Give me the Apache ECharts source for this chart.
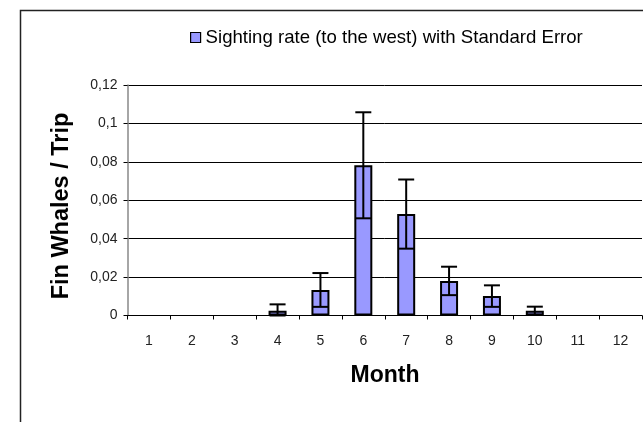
<!DOCTYPE html>
<html>
<head>
<meta charset="utf-8">
<script src="https://cdn.jsdelivr.net/npm/echarts@6/dist/echarts.min.js"></script>
<style>
html,body{margin:0;padding:0;background:#fff;}
#c{width:643px;height:422px;}
</style>
</head>
<body>
<div id="c"></div>
<script>
const months = ['1','2','3','4','5','6','7','8','9','10','11','12'];
const sightingRate = [0, 0, 0, 0.0025, 0.0133, 0.0782, 0.0528, 0.0180, 0.0101, 0.0025, 0, 0];
const standardError = [0, 0, 0, 0.0033, 0.0088, 0.0276, 0.0180, 0.0074, 0.0056, 0.0021, 0, 0];
const yTickLabels = ['0', '0,02', '0,04', '0,06', '0,08', '0,1', '0,12'];

const FONT = '"Liberation Sans", Arial, sans-serif';
const barData = sightingRate.map(v => (v > 0 ? v : null));
const errData = sightingRate.map((v, i) => [i, Math.max(0, v - standardError[i]), v + standardError[i], v]);

const chart = echarts.init(document.getElementById('c'), null, {renderer: 'canvas'});
chart.setOption({
  animation: false,
  backgroundColor: '#fff',
  textStyle: {fontFamily: FONT},
  legend: {
    left: 185, top: 23,
    icon: 'rect', itemWidth: 10, itemHeight: 10,
    textStyle: {fontSize: 18.6, color: '#000', fontFamily: FONT},
    data: [{name: 'Sighting rate (to the west) with Standard Error', itemStyle: {color: '#9999ff', borderColor: '#000', borderWidth: 1.2}}]
  },
  grid: {left: 127.5, right: 1, top: 85, bottom: 106.5, containLabel: false},
  xAxis: {
    type: 'category',
    data: months,
    boundaryGap: true,
    axisLine: {lineStyle: {color: '#000', width: 1}},
    axisTick: {show: true, interval: 0, length: 4, lineStyle: {color: '#000'}},
    axisLabel: {interval: 0, margin: 19, fontSize: 14, color: '#222', fontFamily: FONT},
    splitLine: {show: false}
  },
  yAxis: {
    type: 'value',
    min: 0, max: 0.12, interval: 0.02,
    axisLine: {show: true, lineStyle: {color: '#888', width: 1.5}},
    axisTick: {show: true, length: 4, lineStyle: {color: '#000'}},
    axisLabel: {
      margin: 10, fontSize: 14, color: '#222', fontFamily: FONT,
      formatter: (v) => yTickLabels[Math.round(v / 0.02)]
    },
    splitLine: {show: true, lineStyle: {color: '#000', width: 1}}
  },
  graphic: [
    {type: 'rect', shape: {x: 20.5, y: 10.5, width: 700, height: 500}, style: {fill: 'none', stroke: '#222', lineWidth: 1.5}, silent: true, z: -1},
    {type: 'text', x: 62, y: 206, rotation: Math.PI / 2,
      style: {text: 'Fin Whales / Trip', font: 'bold 23.5px ' + FONT, fill: '#000', align: 'center', verticalAlign: 'middle'}},
    {type: 'text', x: 385, y: 376,
      style: {text: 'Month', font: 'bold 23px ' + FONT, fill: '#000', align: 'center', verticalAlign: 'middle'}}
  ],
  series: [
    {
      name: 'Sighting rate (to the west) with Standard Error',
      type: 'bar',
      data: barData,
      barWidth: 18,
      itemStyle: {color: '#9999ff', borderColor: '#000', borderWidth: 2}
    },
    {
      name: 'err',
      type: 'custom',
      data: errData,
      z: 5,
      renderItem: function (params, api) {
        const v = api.value(3);
        if (!(v > 0)) return null;
        const i = api.value(0);
        const lo = api.coord([i, api.value(1)]);
        const hi = api.coord([i, api.value(2)]);
        const hw = 8;
        const st = {stroke: '#000', lineWidth: 2, fill: null};
        return {
          type: 'group',
          children: [
            {type: 'line', shape: {x1: hi[0], y1: hi[1], x2: lo[0], y2: lo[1]}, style: st},
            {type: 'line', shape: {x1: hi[0] - hw, y1: hi[1], x2: hi[0] + hw, y2: hi[1]}, style: st},
            {type: 'line', shape: {x1: lo[0] - hw, y1: lo[1], x2: lo[0] + hw, y2: lo[1]}, style: st}
          ]
        };
      }
    }
  ]
});
</script>
</body>
</html>
